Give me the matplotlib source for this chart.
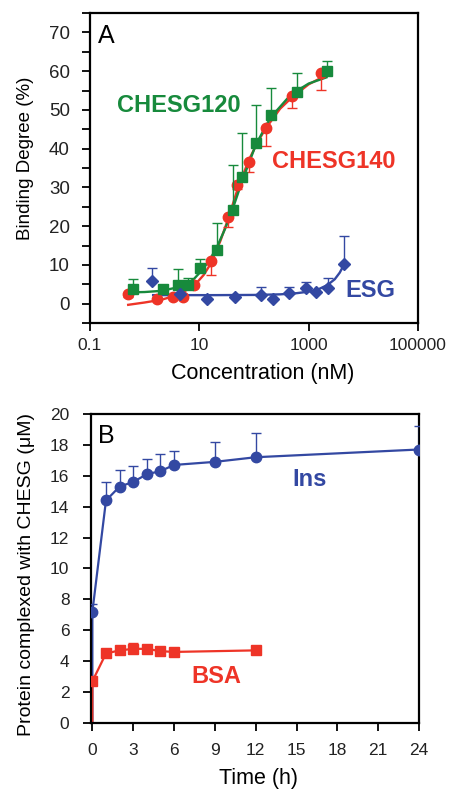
import matplotlib
matplotlib.use("Agg")
import matplotlib.pyplot as plt
from matplotlib.ticker import FixedLocator, MultipleLocator, NullLocator

plt.rcParams['font.family'] = ['Liberation Sans', 'DejaVu Sans']

# ---------------- Panel A data ----------------
esg_x = [1.34, 4.5, 13.6, 44.8, 134, 224, 440, 877, 1350, 2275, 4400]
esg_y = [5.9, 2.5, 1.2, 1.8, 2.3, 1.2, 2.8, 4.0, 3.1, 4.0, 10.2]
esg_err = [3.3, 0, 0, 0, 2.1, 0, 1.6, 1.5, 0, 2.6, 7.2]
esg_fit_x = [1.43, 5, 20, 100, 300, 600, 1000, 1500, 2200, 3000, 3700, 4400]
esg_fit_y = [2.2, 2.2, 2.2, 2.25, 2.4, 2.7, 3.1, 3.7, 4.8, 6.3, 8.0, 10.0]

c140_x = [0.5, 1.66, 3.34, 4.95, 8.07, 16.3, 33, 49.4, 81, 165, 486, 1648]
c140_y = [2.5, 1.2, 1.8, 1.6, 4.8, 10.9, 22.3, 30.7, 36.6, 45.4, 53.7, 59.5]
c140_err = [0.9, 0, 0, 0, 0, 3.4, 2.6, 1.1, 2.7, 4.6, 3.2, 4.3]
c140_fit_x = [0.5, 1, 2, 4, 8, 12, 16, 24, 33, 50, 80, 120, 165, 300, 500, 1000, 1650]
c140_fit_y = [-0.3, 0.3, 1.0, 2.2, 4.6, 7.4, 10.2, 16.0, 21.5, 29.5, 37.0, 42.0, 45.3, 50.3, 53.3, 56.6, 58.2]

c120_x = [0.62, 2.13, 4.12, 6.28, 10.5, 21, 41.7, 61.6, 108, 205, 617, 2120]
c120_y = [3.8, 3.8, 4.9, 4.9, 9.1, 13.8, 24.2, 32.7, 41.5, 48.8, 54.5, 60.0]
c120_err = [2.5, 0, 4.0, 1.7, 2.4, 6.9, 11.5, 11.4, 9.7, 6.8, 5.1, 2.6]
c120_fit_x = [0.5, 1, 2, 4, 6, 8, 10.5, 15, 21, 30, 42, 62, 108, 200, 400, 620, 1000, 2120]
c120_fit_y = [2.9, 3.0, 3.3, 4.2, 5.2, 6.4, 8.2, 11.0, 14.6, 19.5, 25.0, 32.0, 41.0, 48.0, 52.8, 55.0, 56.8, 58.4]

a_xticks = [0.1, 10, 1000, 100000]
a_xticklabels = ['0.1', '10', '1000', '100000']
a_yticks = [0, 10, 20, 30, 40, 50, 60, 70]

# ---------------- Panel B data ----------------
ins_t = [0, 1, 2, 3, 4, 5, 6, 9, 12, 24]
ins_y = [7.2, 14.4, 15.3, 15.6, 16.1, 16.3, 16.7, 16.9, 17.2, 17.7]
ins_err = [0.5, 1.2, 1.1, 1.0, 1.0, 1.1, 0.9, 1.3, 1.6, 1.5]
ins_line_t = [0, 0, 1, 2, 3, 4, 5, 6, 9, 12, 24]
ins_line_y = [0, 7.2, 14.4, 15.3, 15.6, 16.1, 16.3, 16.7, 16.9, 17.2, 17.7]

bsa_t = [0, 1, 2, 3, 4, 5, 6, 12]
bsa_y = [2.7, 4.5, 4.7, 4.8, 4.8, 4.65, 4.6, 4.7]
bsa_err = [0, 0, 0, 0.4, 0, 0, 0, 0]
bsa_line_t = [0, 0, 1, 2, 3, 4, 5, 6, 12]
bsa_line_y = [0, 2.7, 4.5, 4.7, 4.8, 4.8, 4.65, 4.6, 4.7]

GREEN = '#178a3c'
RED = '#ee3427'
BLUE = '#3348a2'

W, H = 449, 790
fig = plt.figure(figsize=(W / 100, H / 100), dpi=100)


def ftext(xpx, ypx, s, **kw):
    """Place text using pixel coordinates measured from the top-left."""
    fig.text(xpx / W, 1 - ypx / H, s, **kw)


# ================= Panel A =================
axA = fig.add_axes([0.2004, 0.5911, 0.7306, 0.3924])
axA.set_xscale('log')

axA.plot(c140_fit_x, c140_fit_y, color=RED, lw=1.7, zorder=2)
axA.plot(c120_fit_x, c120_fit_y, color=GREEN, lw=1.7, zorder=2)
axA.plot(esg_fit_x, esg_fit_y, color=BLUE, lw=1.7, zorder=2)

axA.errorbar(c140_x, c140_y, yerr=[c140_err, [0] * len(c140_err)], fmt='o', color=RED,
             ms=7.5, elinewidth=1.0, capsize=3.5, capthick=1.0, zorder=3)
axA.errorbar(c120_x, c120_y, yerr=[[0] * len(c120_err), c120_err], fmt='s', color=GREEN,
             ms=6.5, elinewidth=1.0, capsize=3.5, capthick=1.0, zorder=4)
axA.errorbar(esg_x, esg_y, yerr=[[0] * len(esg_err), esg_err], fmt='D', color=BLUE,
             ms=6.5, elinewidth=1.0, capsize=3.5, capthick=1.0, zorder=5)

axA.set_xlim(0.1, 100000)
axA.set_ylim(-5, 75)
axA.xaxis.set_major_locator(FixedLocator(a_xticks))
axA.xaxis.set_minor_locator(NullLocator())
axA.set_xticklabels(a_xticklabels)
axA.yaxis.set_major_locator(FixedLocator(a_yticks))
axA.yaxis.set_minor_locator(MultipleLocator(5))
axA.set_xlabel('Concentration (nM)', fontsize=15.5)
axA.set_ylabel('Binding Degree (%)', fontsize=13.5)
axA.xaxis.set_label_coords(0.527, -0.13)
axA.yaxis.set_label_coords(-0.171, 0.53)

axA.text(0.024, 0.903, 'A', transform=axA.transAxes, fontsize=18, ha='left', va='baseline')

# ================= Panel B =================
axB = fig.add_axes([0.2027, 0.0848, 0.7305, 0.3912])

axB.plot(ins_line_t, ins_line_y, color=BLUE, lw=1.6, zorder=2)
axB.plot(bsa_line_t, bsa_line_y, color=RED, lw=1.6, zorder=2)
axB.errorbar(ins_t, ins_y, yerr=[[0] * len(ins_err), ins_err], fmt='o', color=BLUE,
             ms=7.5, elinewidth=1.0, capsize=3.5, capthick=1.0, zorder=3)
axB.errorbar(bsa_t, bsa_y, yerr=[[0] * len(bsa_err), bsa_err], fmt='s', color=RED,
             ms=6.5, elinewidth=1.0, capsize=3.5, capthick=1.0, zorder=3)

axB.set_xlim(-0.1, 24)
axB.set_ylim(0, 20)
axB.xaxis.set_major_locator(MultipleLocator(3))
axB.yaxis.set_major_locator(MultipleLocator(2))
axB.set_xlabel('Time (h)', fontsize=15.5)
axB.set_ylabel('Protein complexed with CHESG (\u03bcM)', fontsize=14)
axB.xaxis.set_label_coords(0.512, -0.147)
axB.yaxis.set_label_coords(-0.171, 0.482)

axB.text(0.021, 0.906, 'B', transform=axB.transAxes, fontsize=18, ha='left', va='baseline')

for ax in (axA, axB):
    for s in ax.spines.values():
        s.set_linewidth(1.6)
        s.set_color('black')
    ax.tick_params(which='both', direction='out', width=1.3, length=5.5, colors='black',
                   labelcolor='#222222')

axA.tick_params(axis='x', labelsize=12.5, pad=5)
axA.tick_params(axis='y', which='both', labelsize=13.5, pad=9)
axB.tick_params(axis='x', labelsize=12.5, pad=9)
axB.tick_params(axis='y', labelsize=12.5, pad=10)

# ---------------- series labels ----------------
ftext(179, 112, 'CHESG120', color=GREEN, fontsize=17, fontweight='bold', ha='center', va='baseline')
ftext(333.5, 168, 'CHESG140', color=RED, fontsize=17, fontweight='bold', ha='center', va='baseline')
ftext(370.5, 297, 'ESG', color=BLUE, fontsize=17, fontweight='bold', ha='center', va='baseline')
ftext(310, 486, 'Ins', color=BLUE, fontsize=17, fontweight='bold', ha='center', va='baseline')
ftext(216.5, 683, 'BSA', color=RED, fontsize=17, fontweight='bold', ha='center', va='baseline')

fig.savefig('out.png', dpi=100)
